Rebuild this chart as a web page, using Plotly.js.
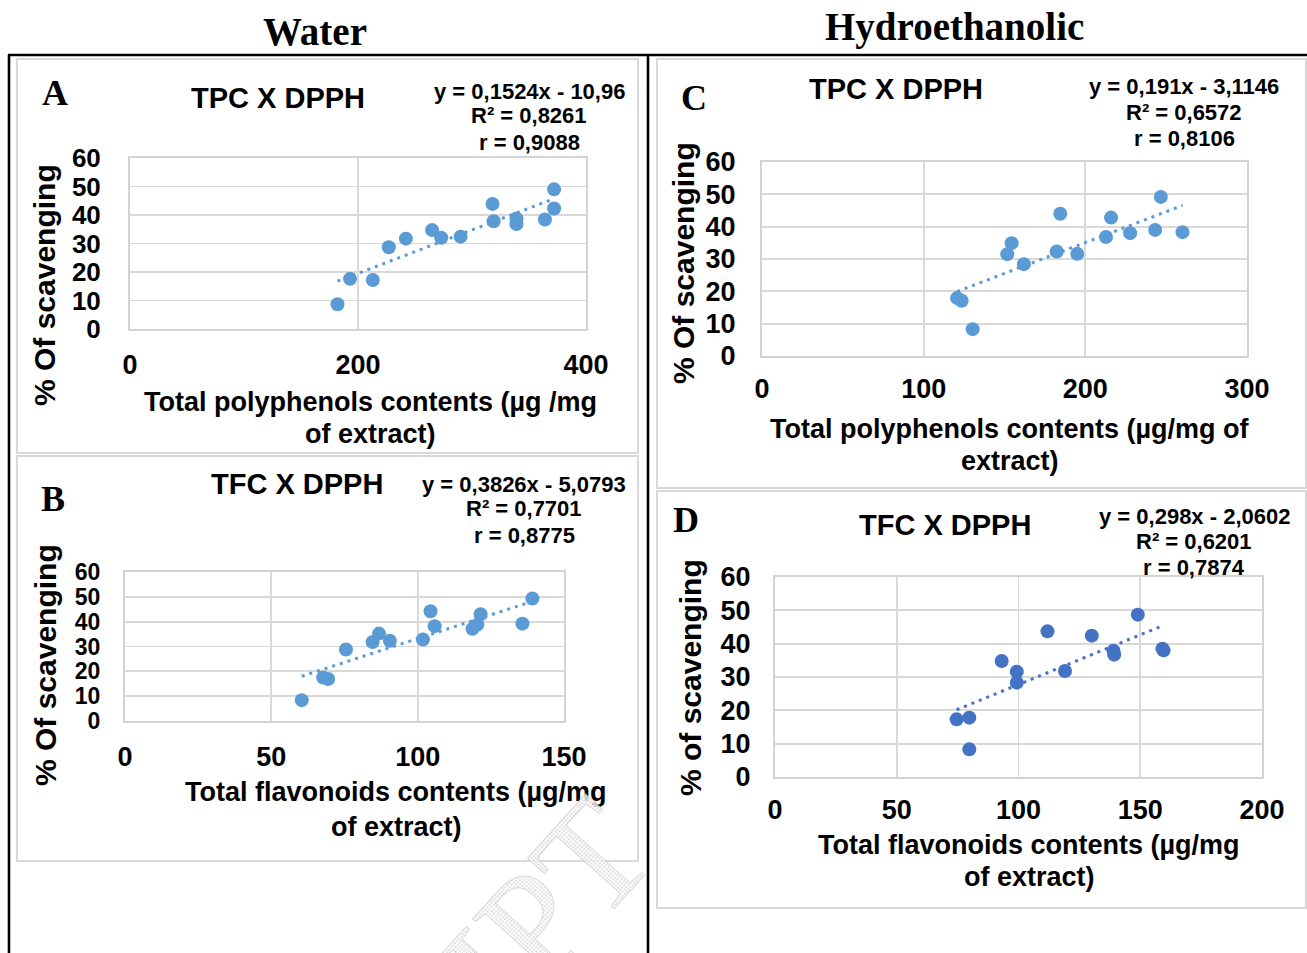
<!DOCTYPE html>
<html>
<head>
<meta charset="utf-8">
<script src="https://cdn.plot.ly/plotly-3.0.1.min.js"></script>
<style>
  html, body { margin: 0; padding: 0; background: #fff; }
  #wrap { position: relative; width: 1307px; height: 953px; overflow: hidden; }
  #chart { position: absolute; left: 0; top: 0; width: 1307px; height: 953px; }
  #wm { position: absolute; left: 0; top: 0; pointer-events: none; }
</style>
</head>
<body>
<div id="wrap">
  <div id="chart"></div>
  <svg id="wm" width="1307" height="953">
    <defs>
      <pattern id="hatch" width="3" height="3" patternUnits="userSpaceOnUse">
        <rect width="3" height="3" fill="#ffffff"/>
        <rect width="1.6" height="1.6" fill="#c9c9c9"/>
      </pattern>
    </defs>
    <text x="660" y="858" text-anchor="end" transform="rotate(-48 660 858)"
      font-family="Liberation Serif, Times New Roman, serif" font-size="150"
      fill="url(#hatch)" stroke="#d4d4d4" stroke-width="1" opacity="0.85">ACCEPTED MANUSCRIPT</text>
  </svg>
</div>
<script>
// ---------- data ----------
const waterTPC_x = [182, 193, 213, 227, 242, 265, 273, 290, 318, 319, 339, 339, 364, 372, 372];
const waterTPC_y = [8.7, 17.6, 17.2, 28.7, 31.7, 34.7, 32.0, 32.4, 43.9, 37.8, 38.8, 36.8, 38.4, 49.0, 42.3];

const waterTFC_x = [60.4, 67.7, 69.4, 75.5, 84.6, 86.8, 90.5, 101.8, 104.4, 105.8, 118.7, 120.4, 121.5, 135.8, 139.2];
const waterTFC_y = [8.4, 17.5, 16.9, 28.8, 31.8, 35.2, 32.3, 32.8, 44.2, 38.2, 37.1, 38.8, 43.0, 39.2, 49.3];

const hydroTPC_x = [120.7, 123.5, 130.3, 151.7, 154.4, 162.0, 182.3, 184.5, 195.0, 212.8, 215.9, 227.7, 243.2, 246.7, 260.1];
const hydroTPC_y = [17.9, 17.1, 8.3, 31.5, 34.9, 28.4, 32.3, 44.0, 31.6, 36.8, 42.8, 38.0, 39.0, 49.2, 38.3];

const hydroTFC_x = [74.6, 79.8, 79.8, 93.1, 99.3, 99.3, 111.9, 119.1, 130.1, 139.0, 139.3, 149.0, 159.1, 159.6];
const hydroTFC_y = [17.3, 17.8, 8.3, 34.8, 31.6, 28.3, 43.7, 31.8, 42.4, 37.9, 36.7, 48.7, 38.5, 38.0];

// regression lines (slope, intercept) as printed on the chart
const slopes = [0.1524, 0.3826, 0.191, 0.298];
const intercepts = [-10.96, -5.0793, -3.1146, -2.0602];

const eqTexts = [
  ["y = 0,1524x - 10,96", "R² = 0,8261", "r = 0,9088"],
  ["y = 0,3826x - 5,0793", "R² = 0,7701", "r = 0,8775"],
  ["y = 0,191x - 3,1146", "R² = 0,6572", "r = 0,8106"],
  ["y = 0,298x - 2,0602", "R² = 0,6201", "r = 0,7874"]
];
const panelTitles = ["TPC X DPPH", "TFC X DPPH", "TPC X DPPH", "TFC X DPPH"];
const panelLetters = ["A", "B", "C", "D"];
const yTitles = ["% Of scavenging", "% Of scavenging", "% Of scavenging", "% of scavenging"];
const xTitles = [
  ["Total polyphenols contents (µg /mg", "of extract)"],
  ["Total flavonoids contents (µg/mg", "of extract)"],
  ["Total polyphenols contents (µg/mg of", "extract)"],
  ["Total flavonoids contents (µg/mg", "of extract)"]
];
const xRanges = [[0, 400], [0, 150], [0, 300], [0, 200]];
const xDticks = [200, 50, 100, 50];
const yRange = [0, 60];
const columnTitles = ["Water", "Hydroethanolic"];

// ---------- layout helpers ----------
const W = 1307, H = 953;
const fx = x => x / W;
const fy = y => 1 - y / H;

const datasets = [
  [waterTPC_x, waterTPC_y],
  [waterTFC_x, waterTFC_y],
  [hydroTPC_x, hydroTPC_y],
  [hydroTFC_x, hydroTFC_y]
];
const colors = ["#5B9BD5", "#5B9BD5", "#5B9BD5", "#4472C4"];

// plot areas in pixels: [left, right, top, bottom]
const boxes = [
  [130, 586, 158, 329],
  [125, 564, 572, 721],
  [762, 1247, 162, 356],
  [775, 1262, 577, 777]
];

const traces = [];
datasets.forEach((d, i) => {
  const ax = i === 0 ? "" : String(i + 1);
  const xs = d[0];
  const xmin = Math.min(...xs), xmax = Math.max(...xs);
  traces.push({
    type: "scatter", mode: "lines",
    x: [xmin, xmax],
    y: [slopes[i] * xmin + intercepts[i], slopes[i] * xmax + intercepts[i]],
    xaxis: "x" + ax, yaxis: "y" + ax,
    line: { color: colors[i], width: 3, dash: "3px,5px" },
    hoverinfo: "skip", showlegend: false
  });
  traces.push({
    type: "scatter", mode: "markers",
    x: d[0], y: d[1],
    xaxis: "x" + ax, yaxis: "y" + ax,
    marker: { color: colors[i], size: 14 },
    showlegend: false
  });
});

const sans = "Liberation Sans, Arial, sans-serif";
const serif = "Liberation Serif, Times New Roman, serif";
const xTickSizes = [27, 27, 27, 27];
const yTickSizes = [26, 23, 27, 27];

const layout = {
  width: W, height: H,
  margin: { l: 0, r: 0, t: 0, b: 0 },
  paper_bgcolor: "#fff", plot_bgcolor: "#fff",
  showlegend: false,
  shapes: [],
  annotations: []
};

const xStandoff = [11, 11, 8, 8];
const yStandoff = [22, 18, 19, 17];

boxes.forEach((b, i) => {
  const ax = i === 0 ? "" : String(i + 1);
  layout["xaxis" + ax] = {
    domain: [fx(b[0]), fx(b[1])],
    anchor: "y" + ax,
    range: xRanges[i], dtick: xDticks[i], tick0: 0,
    showgrid: true, gridcolor: "#d9d9d9", gridwidth: 1.8,
    zeroline: false,
    showline: true, mirror: true, linecolor: "#d3d3d3", linewidth: 2,
    ticks: "", tickfont: { family: sans, size: xTickSizes[i], color: "#000", weight: "bold" },
    ticklabelstandoff: xStandoff[i],
    fixedrange: true
  };
  layout["yaxis" + ax] = {
    domain: [fy(b[3]), fy(b[2])],
    anchor: "x" + ax,
    range: yRange, dtick: 10, tick0: 0,
    showgrid: true, gridcolor: "#d9d9d9", gridwidth: 1.8,
    zeroline: false,
    showline: true, mirror: true, linecolor: "#d3d3d3", linewidth: 2,
    ticks: "", tickfont: { family: sans, size: yTickSizes[i], color: "#000", weight: "bold" },
    ticklabelstandoff: yStandoff[i],
    fixedrange: true
  };
});

// cards (light grey frames)
const cards = [
  [17, 638, 59, 453],
  [17, 638, 456, 861],
  [657, 1306, 59, 488],
  [657, 1306, 491, 908]
];
cards.forEach(c => {
  layout.shapes.push({
    type: "rect", xref: "paper", yref: "paper", layer: "below",
    x0: fx(c[0]), x1: fx(c[1]), y0: fy(c[3]), y1: fy(c[2]),
    line: { color: "#d9d9d9", width: 2 }, fillcolor: "rgba(0,0,0,0)"
  });
});
// black frame lines
[[8, 55, 1307, 55], [9, 55, 9, 953], [648, 55, 648, 953]].forEach(l => {
  layout.shapes.push({
    type: "line", xref: "paper", yref: "paper",
    x0: fx(l[0]), y0: fy(l[1]), x1: fx(l[2]), y1: fy(l[3]),
    line: { color: "#000", width: 2.6 }
  });
});

function ann(text, x, y, size, family, extra) {
  layout.annotations.push(Object.assign({
    text: text, xref: "paper", yref: "paper", x: fx(x), y: fy(y),
    xanchor: "center", yanchor: "middle", showarrow: false,
    font: { family: family, size: size, color: "#000" }
  }, extra || {}));
}

// column titles
ann("<b>" + columnTitles[0] + "</b>", 315, 32, 39, serif);
ann("<b>" + columnTitles[1] + "</b>", 954, 27, 39, serif);

// panel text positions
const letterPos = [[55, 93], [53, 499], [694, 98], [686, 520]];
const titlePos = [[278, 98], [297, 484], [896, 89], [945, 525]];
const eqPos = [[529, [91, 116, 142]], [524, [484, 509, 535]], [1184, [87, 112, 138]], [1194, [516, 541, 567]]];
const yTitlePos = [[45, 285], [45, 665], [683, 263], [690, 678]];
const xTitlePos = [[370, [402, 434]], [396, [792, 827]], [1010, [429, 461]], [1029, [845, 877]]];

for (let i = 0; i < 4; i++) {
  ann("<b>" + panelLetters[i] + "</b>", letterPos[i][0], letterPos[i][1], 36, serif);
  ann("<b>" + panelTitles[i] + "</b>", titlePos[i][0], titlePos[i][1], 29, sans);
  eqTexts[i].forEach((t, k) => ann("<b>" + t + "</b>", eqPos[i][0], eqPos[i][1][k], 22, sans));
  ann("<b>" + yTitles[i] + "</b>", yTitlePos[i][0], yTitlePos[i][1], 30, sans, { textangle: -90 });
  xTitles[i].forEach((t, k) => ann("<b>" + t + "</b>", xTitlePos[i][0], xTitlePos[i][1][k], 27, sans));
}

Plotly.newPlot("chart", traces, layout, { displayModeBar: false, staticPlot: true });
</script>
</body>
</html>
